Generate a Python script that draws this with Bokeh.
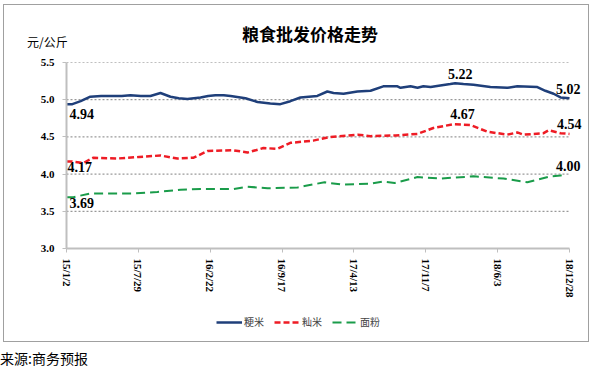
import math
import pandas as pd
from bokeh.plotting import figure
from bokeh.layouts import column
from bokeh.models import (Range1d, FixedTicker, Label, Legend, LegendItem, Div,
                          NumeralTickFormatter)
from bokeh.embed import file_html
from bokeh.resources import INLINE

# ---------------- data ----------------
title_text = "粮食批发价格走势"
unit_text = "元/公斤"
source_text = "来源:商务预报"
series_names = ["粳米", "籼米", "面粉"]
tick_labels = ["15/1/2", "15/7/29", "16/2/22", "16/9/17",
               "17/4/13", "17/11/7", "18/6/3", "18/12/28"]
y_ticks = [3.0, 3.5, 4.0, 4.5, 5.0, 5.5]

# days since 2015-01-02
japonica_day = [0, 17, 41, 69, 100, 127, 160, 185, 215, 243, 272, 301, 325, 350,
                388, 410, 431, 455, 475, 518, 553, 590, 619, 648, 677, 726, 755,
                773, 802, 842, 880, 917, 958, 967, 996, 1016, 1033, 1054, 1082,
                1111, 1125, 1149, 1178, 1227, 1276, 1305, 1363, 1386, 1410, 1430,
                1456]
japonica_val = [4.94, 4.94, 4.98, 5.04, 5.05, 5.05, 5.05, 5.06, 5.05, 5.05, 5.09,
                5.04, 5.02, 5.01, 5.03, 5.05, 5.06, 5.06, 5.05, 5.02, 4.97, 4.95,
                4.94, 4.98, 5.03, 5.05, 5.11, 5.09, 5.08, 5.11, 5.12, 5.18, 5.18,
                5.16, 5.18, 5.16, 5.18, 5.17, 5.19, 5.21, 5.22, 5.21, 5.20, 5.17,
                5.16, 5.18, 5.17, 5.12, 5.08, 5.03, 5.02]

indica_day = [0, 14, 49, 78, 148, 210, 272, 321, 368, 408, 483, 524, 570, 611, 648,
              714, 764, 843, 880, 953, 1016, 1062, 1120, 1169, 1218, 1276, 1305,
              1323, 1381, 1396, 1430, 1456]
indica_val = [4.17, 4.17, 4.15, 4.22, 4.21, 4.23, 4.25, 4.21, 4.22, 4.31, 4.32,
              4.29, 4.35, 4.34, 4.42, 4.45, 4.50, 4.53, 4.51, 4.52, 4.54, 4.62,
              4.67, 4.66, 4.57, 4.53, 4.56, 4.53, 4.55, 4.59, 4.55, 4.54]

flour_day = [0, 20, 69, 195, 263, 330, 388, 483, 524, 582, 669, 689, 747, 796, 880,
             915, 950, 1016, 1082, 1178, 1265, 1334, 1401, 1430, 1447]
flour_val = [3.69, 3.69, 3.74, 3.74, 3.76, 3.79, 3.80, 3.80, 3.83, 3.81, 3.82, 3.84,
             3.89, 3.86, 3.87, 3.90, 3.88, 3.96, 3.94, 3.97, 3.94, 3.89, 3.97, 3.98,
             4.00]

start = pd.Timestamp("2015-01-02")
tick_days = [int((pd.to_datetime("20" + t, format="%Y/%m/%d") - start).days)
             for t in tick_labels]

BLUE = "#1f3f7a"
RED = "#ee1c25"
GREEN = "#1a9c4a"
CJK = "'Noto Sans CJK SC', sans-serif"
styles = [dict(line_color=BLUE, line_width=2.5),
          dict(line_color=RED, line_width=2.5, line_dash="6 3"),
          dict(line_color=GREEN, line_width=2, line_dash="9 5")]
series = [(japonica_day, japonica_val), (indica_day, indica_val), (flour_day, flour_val)]

# ---------------- layout constants ----------------
INNER_W = 584          # content width inside the bordered box
HEADER_H = 44
TOP, FRAME_H, BOTTOM = 13, 186, 58
P_H = TOP + FRAME_H + BOTTOM
LEG_H = 35
LEFT = 62              # frame left inside canvas
DATA_W = 503           # pixel width for the tick span
frame_w = INNER_W - LEFT
x_end = tick_days[0] + (tick_days[-1] - tick_days[0]) * frame_w / DATA_W

# ---------------- main figure ----------------
p = figure(width=INNER_W, height=P_H, output_backend="svg", toolbar_location=None,
           x_range=Range1d(tick_days[0], x_end),
           y_range=Range1d(y_ticks[0], y_ticks[-1]),
           min_border_left=LEFT, min_border_right=0,
           min_border_top=TOP, min_border_bottom=BOTTOM)
p.outline_line_color = None
p.background_fill_color = "white"
p.border_fill_color = "white"
p.xgrid.visible = False
p.ygrid.visible = False

# horizontal dotted grid lines across the tick span
n = len(y_ticks) - 1
p.segment(x0=[tick_days[0]] * n, y0=y_ticks[1:], x1=[tick_days[-1]] * n,
          y1=y_ticks[1:], line_color="#808080", line_width=1, line_dash="2 2")

for ax in (p.xaxis, p.yaxis):
    ax.axis_line_color = "#bfbfbf"
    ax.axis_line_width = 2
    ax.major_tick_line_color = "#bfbfbf"
    ax.minor_tick_line_color = None
    ax.major_tick_in = 0
    ax.major_tick_out = 4
    ax.major_label_text_font = "Liberation Serif"
    ax.major_label_text_font_style = "bold"
    ax.major_label_text_font_size = "11px"
    ax.major_label_text_color = "#000000"

p.xaxis.bounds = (tick_days[0], tick_days[-1])
p.xaxis.ticker = FixedTicker(ticks=tick_days)
p.xaxis.major_label_overrides = {d: l for d, l in zip(tick_days, tick_labels)}
p.xaxis.major_label_orientation = -math.pi / 2
p.xaxis.major_label_standoff = 6
p.yaxis.ticker = FixedTicker(ticks=y_ticks)
p.yaxis.formatter = NumeralTickFormatter(format="0.0")
p.yaxis.major_label_standoff = 8

for (xs, ys), s in zip(series, styles):
    p.line(xs, ys, **s)


def value_label(x, y, align, baseline, xo, yo):
    p.add_layout(Label(x=x, y=y, text=f"{y:.2f}", text_align=align,
                       text_baseline=baseline, x_offset=xo, y_offset=yo,
                       text_font="Liberation Serif", text_font_style="bold",
                       text_font_size="14px", text_color="#000000"))


# start values
value_label(japonica_day[0], japonica_val[0], "left", "top", 3, -5)
value_label(indica_day[0], indica_val[0], "left", "top", 1, -1)
value_label(flour_day[0], flour_val[0], "left", "top", 3, -1)
# peaks
ij = max(range(len(japonica_val)), key=lambda i: japonica_val[i])
value_label(japonica_day[ij], japonica_val[ij], "center", "bottom", 5, 4)
ii = max(range(len(indica_val)), key=lambda i: indica_val[i])
value_label(indica_day[ii], indica_val[ii], "center", "bottom", 9, 5)
# end values
value_label(japonica_day[-1], japonica_val[-1], "right", "bottom", 11, 4)
value_label(indica_day[-1], indica_val[-1], "right", "bottom", 12, 5)
value_label(flour_day[-1], flour_val[-1], "right", "bottom", 14, 3)

# ---------------- legend strip ----------------
# same series drawn far outside this strip's ranges, only the legend is visible
lg = figure(width=INNER_W, height=LEG_H, output_backend="svg", toolbar_location=None,
            x_axis_type=None, y_axis_type=None,
            min_border_left=LEFT, min_border_right=0,
            min_border_top=0, min_border_bottom=0,
            x_range=Range1d(-3, -2), y_range=Range1d(-3, -2))
lg.outline_line_color = None
lg.xgrid.visible = False
lg.ygrid.visible = False
lrs = [lg.line(xs, ys, **s) for (xs, ys), s in zip(series, styles)]
legend = Legend(items=[LegendItem(label=nm, renderers=[r])
                       for nm, r in zip(series_names, lrs)],
                location=(150, 12), orientation="horizontal",
                glyph_width=26, glyph_height=12, label_standoff=2, spacing=10,
                padding=0, margin=0, border_line_color=None,
                background_fill_alpha=0,
                label_text_font="Noto Sans CJK SC", label_text_font_size="10px",
                label_height=12)
lg.add_layout(legend, "center")

# ---------------- header / source ----------------
header = Div(width=INNER_W, height=HEADER_H, margin=0, text=(
    f'<div style="position:relative;width:{INNER_W}px;height:{HEADER_H}px;'
    f'font-family:{CJK};color:#000;">'
    f'<span style="position:absolute;left:306px;top:20px;transform:translateX(-50%);'
    f'font-size:17px;line-height:17px;font-weight:bold;white-space:nowrap;">{title_text}</span>'
    f'<span style="position:absolute;left:23px;top:31px;font-size:12px;line-height:12px;'
    f'white-space:nowrap;">{unit_text}</span></div>'))

inner = column(header, p, lg, spacing=0,
               styles={"border": "1px solid #a0a0a0", "background": "white"})
inner.margin = (4, 0, 0, 3)

source = Div(width=200, height=25, margin=0, text=(
    f'<div style="position:relative;top:9px;font-family:{CJK};font-size:14px;'
    f'line-height:15px;color:#000;white-space:nowrap;">{source_text}</div>'))

page = column(inner, source, spacing=0)

open("out.html", "w").write(file_html(page, INLINE))
